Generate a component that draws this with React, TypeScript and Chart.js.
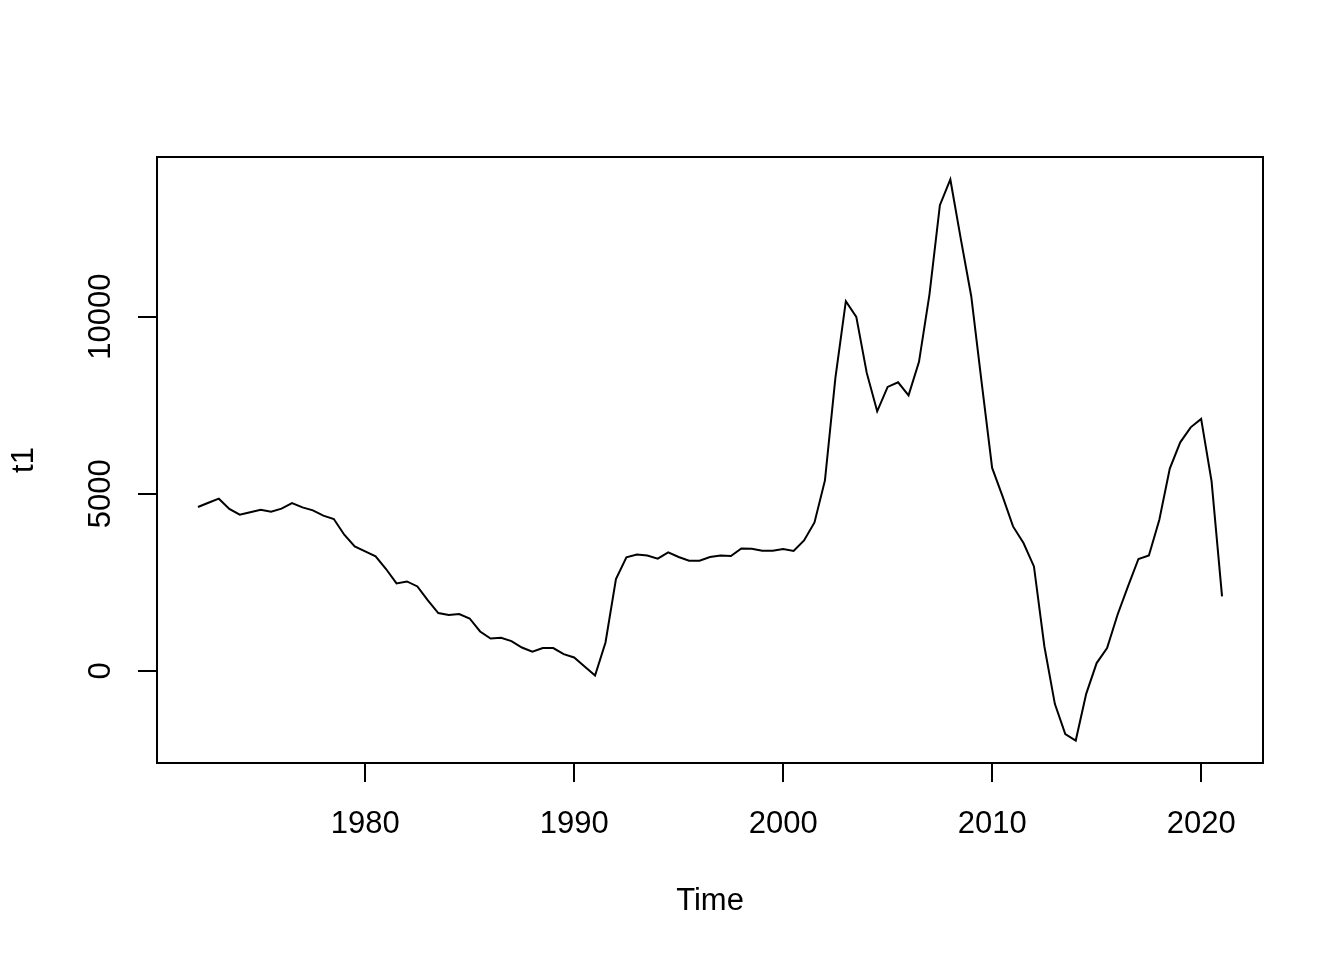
import React, { useEffect, useRef } from "react";
import { Chart, registerables } from "chart.js";

Chart.register(...registerables);

// Time index (semi-annual, 1972–2021)
const times: number[] = [
  1972, 1972.5, 1973, 1973.5, 1974, 1974.5, 1975, 1975.5, 1976, 1976.5,
  1977, 1977.5, 1978, 1978.5, 1979, 1979.5, 1980, 1980.5, 1981, 1981.5,
  1982, 1982.5, 1983, 1983.5, 1984, 1984.5, 1985, 1985.5, 1986, 1986.5,
  1987, 1987.5, 1988, 1988.5, 1989, 1989.5, 1990, 1990.5, 1991, 1991.5,
  1992, 1992.5, 1993, 1993.5, 1994, 1994.5, 1995, 1995.5, 1996, 1996.5,
  1997, 1997.5, 1998, 1998.5, 1999, 1999.5, 2000, 2000.5, 2001, 2001.5,
  2002, 2002.5, 2003, 2003.5, 2004, 2004.5, 2005, 2005.5, 2006, 2006.5,
  2007, 2007.5, 2008, 2008.5, 2009, 2009.5, 2010, 2010.5, 2011, 2011.5,
  2012, 2012.5, 2013, 2013.5, 2014, 2014.5, 2015, 2015.5, 2016, 2016.5,
  2017, 2017.5, 2018, 2018.5, 2019, 2019.5, 2020, 2020.5, 2021,
];

// Series t1
const t1: number[] = [
  4625, 4745, 4859, 4568, 4407, 4478, 4548, 4492, 4577, 4737,
  4613, 4528, 4379, 4285, 3842, 3511, 3370, 3229, 2873, 2466,
  2523, 2381, 1986, 1630, 1574, 1602, 1477, 1110, 912, 932,
  839, 658, 537, 641, 641, 472, 376, 121, -133, 800,
  2590, 3201, 3285, 3257, 3164, 3342, 3212, 3108, 3108, 3212,
  3257, 3240, 3455, 3447, 3390, 3390, 3438, 3382, 3681, 4189,
  5376, 8269, 10433, 9992, 8410, 7325, 8014, 8144, 7777, 8721,
  10622, 13145, 13871, 12195, 10574, 8128, 5726, 4924, 4076, 3608,
  2946, 686, -932, -1788, -1969, -650, 218, 641, 1582, 2381,
  3156, 3257, 4266, 5707, 6450, 6873, 7111, 5348, 2099,
];

const xTicks: number[] = [1980, 1990, 2000, 2010, 2020];
const yTicks: number[] = [0, 5000, 10000];
const xLimits: number[] = [1970.04, 2022.96];
const yLimits: number[] = [-2603, 14505];

const FONT = "'Liberation Sans', Arial, Helvetica, sans-serif";
const FS = 31;

const boxPlugin = {
  id: "boxPlugin",
  afterDraw(chart: any) {
    const { ctx, chartArea } = chart;
    ctx.save();
    ctx.strokeStyle = "#000";
    ctx.lineWidth = 2;
    ctx.strokeRect(
      chartArea.left,
      chartArea.top,
      chartArea.right - chartArea.left,
      chartArea.bottom - chartArea.top
    );
    ctx.restore();
  },
};

export default function App() {
  const ref = useRef<HTMLCanvasElement | null>(null);

  useEffect(() => {
    document.body.style.margin = "0";
    const canvas = ref.current;
    if (!canvas) return;
    const chart = new Chart(canvas, {
      type: "line",
      data: {
        datasets: [
          {
            label: "t1",
            data: times.map((t, i) => ({ x: t, y: t1[i] })),
            borderColor: "#000",
            borderWidth: 2,
            pointRadius: 0,
            tension: 0,
            fill: false,
          },
        ],
      },
      plugins: [boxPlugin],
      options: {
        responsive: false,
        animation: false,
        events: [],
        layout: { padding: { top: 157, right: 81, left: 0, bottom: 0 } },
        plugins: {
          legend: { display: false },
          tooltip: { enabled: false },
        },
        scales: {
          x: {
            type: "linear",
            position: "bottom",
            min: xLimits[0],
            max: xLimits[1],
            afterFit: (s: any) => {
              s.height = 197;
            },
            afterBuildTicks: (s: any) => {
              s.ticks = xTicks.map((v) => ({ value: v }));
            },
            ticks: {
              autoSkip: false,
              maxRotation: 0,
              minRotation: 0,
              padding: 24,
              color: "#000",
              font: { family: FONT, size: FS },
              callback: (v: any) => String(v),
            },
            grid: {
              display: true,
              drawOnChartArea: false,
              drawTicks: true,
              tickLength: 19,
              color: "#000",
              lineWidth: 2,
            },
            border: { display: false },
            title: {
              display: true,
              text: "Time",
              color: "#000",
              font: { family: FONT, size: FS },
              padding: { top: 0, bottom: 40 },
            },
          },
          y: {
            type: "linear",
            position: "left",
            min: yLimits[0],
            max: yLimits[1],
            afterFit: (s: any) => {
              s.width = 157;
            },
            afterBuildTicks: (s: any) => {
              s.ticks = yTicks.map((v) => ({ value: v }));
            },
            ticks: {
              autoSkip: false,
              minRotation: 90,
              maxRotation: 90,
              crossAlign: "center",
              padding: -7,
              color: "#000",
              font: { family: FONT, size: FS },
              callback: (v: any) => String(v),
            },
            grid: {
              display: true,
              drawOnChartArea: false,
              drawTicks: true,
              tickLength: 19,
              color: "#000",
              lineWidth: 2,
            },
            border: { display: false },
            title: {
              display: true,
              text: "t1",
              color: "#000",
              font: { family: FONT, size: FS },
              padding: { top: 6, bottom: 0 },
            },
          },
        },
      },
    });
    return () => chart.destroy();
  }, []);

  return (
    <div style={{ position: "absolute", left: 0, top: 0, width: 1344, height: 960, background: "#fff" }}>
      <canvas ref={ref} width={1344} height={960} style={{ display: "block" }} />
    </div>
  );
}
